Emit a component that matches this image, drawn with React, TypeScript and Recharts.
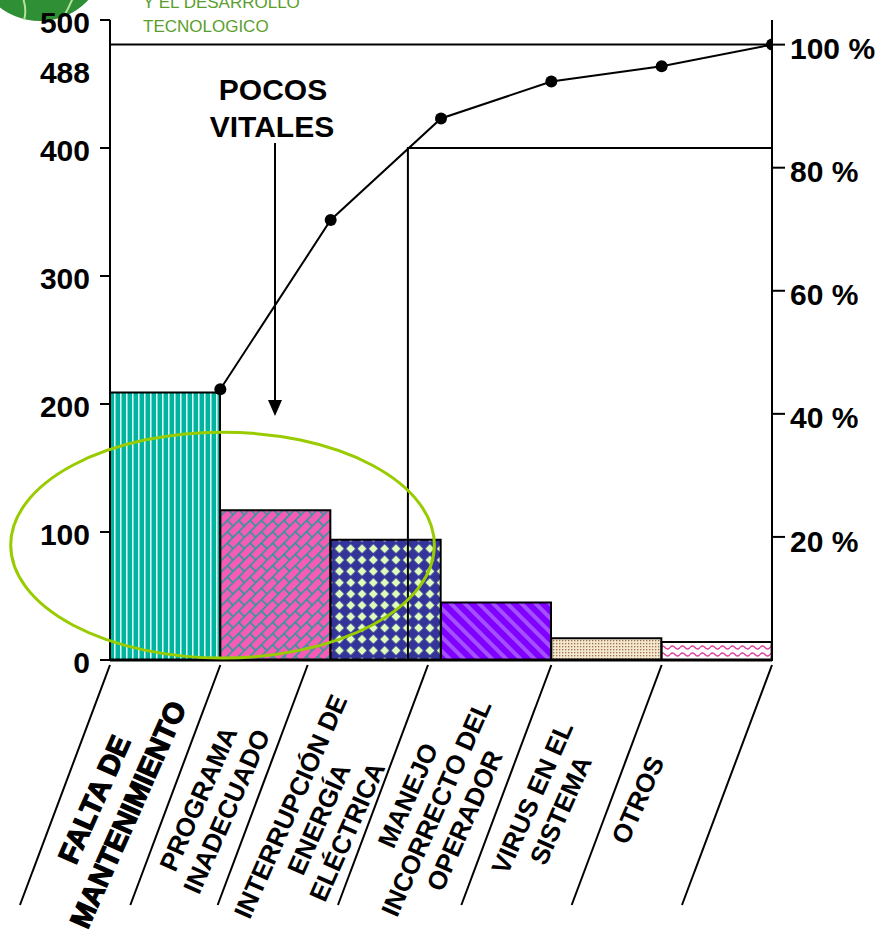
import { ComposedChart, Bar, Cell, Line, XAxis, YAxis, ReferenceLine, ReferenceArea } from "recharts";

const causes = [
  "FALTA DE MANTENIMIENTO",
  "PROGRAMA INADECUADO",
  "INTERRUPCIÓN DE ENERGÍA ELÉCTRICA",
  "MANEJO INCORRECTO DEL OPERADOR",
  "VIRUS EN EL SISTEMA",
  "OTROS",
];
const causeLines = [
  ["FALTA DE", "MANTENIMIENTO"],
  ["PROGRAMA", "INADECUADO"],
  ["INTERRUPCIÓN DE", "ENERGÍA", "ELÉCTRICA"],
  ["MANEJO", "INCORRECTO DEL", "OPERADOR"],
  ["VIRUS EN EL", "SISTEMA"],
  ["OTROS"],
];
const counts = [209, 117, 94, 45, 17, 14];
const cumulativePct = [44, 71.5, 88, 94, 96.5, 100];
const countTicks = [0, 100, 200, 300, 400, 488, 500];
const pctTicks = [20, 40, 60, 80, 100];
const patternIds = ["pat-stripes", "pat-brick", "pat-diamond", "pat-diag", "pat-dots", "pat-wave"];

// annotation extents, in data units
const trivialBox = { x1: 2.7, x2: 6, top: 83.2 };
const vitalEllipse = { x1: -0.9, x2: 2.94, y1: 1.5, y2: 178 };

// label placement below the axis (hand-tuned)
const labelShiftX = [-54, -63, -67, -60, -60, -79];
const labelShiftY = [142, 140, 154, 143, 139, 135];
const dividerShift = [0, 0, -23, -13, 0, 0, 0];

const barData = causes.map((name, i) => ({ name, count: counts[i] }));
const lineData = cumulativePct.map((pct, i) => ({ pos: i + 1, pct }));

const FONT = '"Liberation Sans", Arial, sans-serif';

function CountTick(props: any) {
  const { x, y, payload } = props;
  const lifted = payload.value === 488;
  return (
    <g>
      {!lifted && <line x1={x + 10} x2={x + 20} y1={y} y2={y} stroke="#000" strokeWidth={2} />}
      <text
        x={x}
        y={lifted ? y + 37 : y + 2}
        textAnchor="end"
        dominantBaseline="central"
        fontFamily={FONT}
        fontWeight="bold"
        fontSize={30}
        fill="#000"
      >
        {payload.value}
      </text>
    </g>
  );
}

function CauseTick(props: any) {
  const { x, y, payload, index } = props;
  const half = payload.offset || 55;
  const lines = causeLines[index] || [payload.value];
  const first = index === 0;
  const fs = first ? 29 : 26;
  const lh = first ? 37 : 31;
  const divider = (bx: number) => (
    <line x1={bx} y1={y} x2={bx - 90} y2={y + 240} stroke="#000" strokeWidth={2} />
  );
  return (
    <g>
      {divider(x - half + dividerShift[index])}
      {index === causes.length - 1 && divider(x + half + dividerShift[index + 1])}
      <g transform={`translate(${x + labelShiftX[index]}, ${y + labelShiftY[index]}) rotate(-66)`}>
        {lines.map((t: string, k: number) => (
          <text
            key={k}
            x={0}
            y={(k - (lines.length - 1) / 2) * lh}
            textAnchor="middle"
            dominantBaseline="central"
            fontFamily={FONT}
            fontWeight="bold"
            fontSize={fs}
            fill="#000"
            stroke={first ? "#000" : "none"}
            strokeWidth={first ? 1.3 : 0}
          >
            {t}
          </text>
        ))}
      </g>
    </g>
  );
}

function EllipseShape(p: any) {
  return (
    <ellipse
      cx={p.x + p.width / 2}
      cy={p.y + p.height / 2}
      rx={p.width / 2}
      ry={p.height / 2}
      fill="none"
      stroke="#99cc00"
      strokeWidth={3}
    />
  );
}

export default function App() {
  return (
    <div style={{ position: "absolute", left: 0, top: 0, width: 885, height: 935, background: "#fff", overflow: "hidden" }}>
      <svg width={885} height={935} style={{ position: "absolute", left: 0, top: 0 }}>
        <circle cx={40} cy={-45} r={66} fill="#2e8f34" />
        <path d="M 20 -10 Q 28 8 24 20" stroke="#b8e0a0" strokeWidth={2} fill="none" />
        <path d="M 76 -10 Q 70 6 64 16" stroke="#b8e0a0" strokeWidth={2} fill="none" />
        <text x={143} y={8} fontFamily={FONT} fontSize={17} fill="#5a9e2c">Y EL DESARROLLO</text>
        <text x={143} y={32} fontFamily={FONT} fontSize={17} fill="#5a9e2c">TECNOLOGICO</text>
        <text x={273} y={100} textAnchor="middle" fontFamily={FONT} fontWeight="bold" fontSize={30} fill="#000">POCOS</text>
        <text x={272} y={137} textAnchor="middle" fontFamily={FONT} fontWeight="bold" fontSize={30} fill="#000">VITALES</text>
        <line x1={275} y1={143} x2={275} y2={402} stroke="#000" strokeWidth={2} />
        <path d="M 268 400 L 282 400 L 275 416 Z" fill="#000" />
      </svg>
      <div style={{ position: "absolute", left: 0, top: 0 }}>
        <ComposedChart
          width={885}
          height={935}
          data={barData}
          margin={{ top: 20, right: 0, bottom: 0, left: 0 }}
          barCategoryGap={0}
          barGap={0}
        >
          <defs>
            <pattern id="pat-stripes" width="6" height="6" patternUnits="userSpaceOnUse">
              <rect width="6" height="6" fill="#00b4a0" />
              <rect x="0" width="1" height="6" fill="#e4fff8" />
              <rect x="1" width="1" height="6" fill="#72ddd0" />
            </pattern>
            <pattern id="pat-brick" width="16" height="16" patternUnits="userSpaceOnUse" patternTransform="rotate(-45)">
              <rect width="16" height="16" fill="#f75cb5" />
              <path d="M0 0.75H16M0 8.75H16M0.75 0V8M8.75 8V16" stroke="#1f9c9c" strokeWidth="1.5" fill="none" />
            </pattern>
            <pattern id="pat-diamond" width="16" height="16" patternUnits="userSpaceOnUse" patternTransform="rotate(45)">
              <rect width="16" height="16" fill="#333399" />
              <rect x="0.8" y="0.8" width="6.4" height="6.4" fill="#ddffbb" />
              <rect x="8.8" y="8.8" width="6.4" height="6.4" fill="#ddffbb" />
            </pattern>
            <pattern id="pat-diag" width="10" height="10" patternUnits="userSpaceOnUse" patternTransform="rotate(-45)">
              <rect width="10" height="10" fill="#7f00ff" />
              <rect width="4" height="10" fill="#a550ff" />
            </pattern>
            <pattern id="pat-dots" width="3" height="3" patternUnits="userSpaceOnUse">
              <rect width="3" height="3" fill="#f3e7cf" />
              <rect x="1" y="1" width="1.3" height="1.3" fill="#9c7048" />
            </pattern>
            <pattern id="pat-wave" width="10" height="7" patternUnits="userSpaceOnUse">
              <rect width="10" height="7" fill="#fff" />
              <path d="M0 3.5 Q2.5 0.5 5 3.5 T10 3.5" stroke="#e0409a" strokeWidth="1.4" fill="none" />
            </pattern>
          </defs>
          <XAxis
            dataKey="name"
            height={275}
            interval={0}
            tickSize={0}
            tickMargin={5}
            tickLine={false}
            axisLine={{ stroke: "#000", strokeWidth: 3 }}
            tick={CauseTick}
          />
          <XAxis xAxisId="pos" type="number" dataKey="pos" domain={[0, 6]} allowDataOverflow hide />
          <YAxis
            yAxisId="count"
            domain={[0, 500]}
            ticks={countTicks}
            interval={0}
            width={110}
            tickSize={10}
            tickMargin={10}
            tickLine={false}
            axisLine={{ stroke: "#000", strokeWidth: 2 }}
            tick={CountTick}
          />
          <YAxis
            yAxisId="pct"
            orientation="right"
            domain={[0, 104]}
            ticks={pctTicks}
            interval={0}
            width={113}
            tickSize={13}
            tickMargin={5}
            tickFormatter={(v: number) => `${v} %`}
            tickLine={{ stroke: "#000", strokeWidth: 2 }}
            axisLine={{ stroke: "#000", strokeWidth: 2 }}
            tick={{ fontFamily: FONT, fontWeight: "bold", fontSize: 30, fill: "#000", dy: 4 }}
          />
          <Bar yAxisId="count" dataKey="count" stroke="#000" strokeWidth={2} isAnimationActive={false}>
            {barData.map((_, i) => (
              <Cell key={`bar-${i}`} fill={`url(#${patternIds[i]})`} />
            ))}
          </Bar>
          <ReferenceLine yAxisId="pct" y={100} stroke="#000" strokeWidth={2} />
          <Line
            xAxisId="pos"
            yAxisId="pct"
            data={lineData}
            dataKey="pct"
            stroke="#000"
            strokeWidth={2}
            dot={{ r: 6, fill: "#000", stroke: "#000", strokeWidth: 0 }}
            isAnimationActive={false}
          />
          <ReferenceArea
            xAxisId="pos"
            yAxisId="pct"
            x1={trivialBox.x1}
            x2={trivialBox.x2}
            y1={0}
            y2={trivialBox.top}
            fill="none"
            fillOpacity={0}
            stroke="#000"
            strokeWidth={2}
            ifOverflow="visible"
            zIndex={650}
          />
          <ReferenceArea
            xAxisId="pos"
            yAxisId="count"
            x1={vitalEllipse.x1}
            x2={vitalEllipse.x2}
            y1={vitalEllipse.y1}
            y2={vitalEllipse.y2}
            ifOverflow="visible"
            shape={EllipseShape}
            zIndex={650}
          />
        </ComposedChart>
      </div>
    </div>
  );
}
